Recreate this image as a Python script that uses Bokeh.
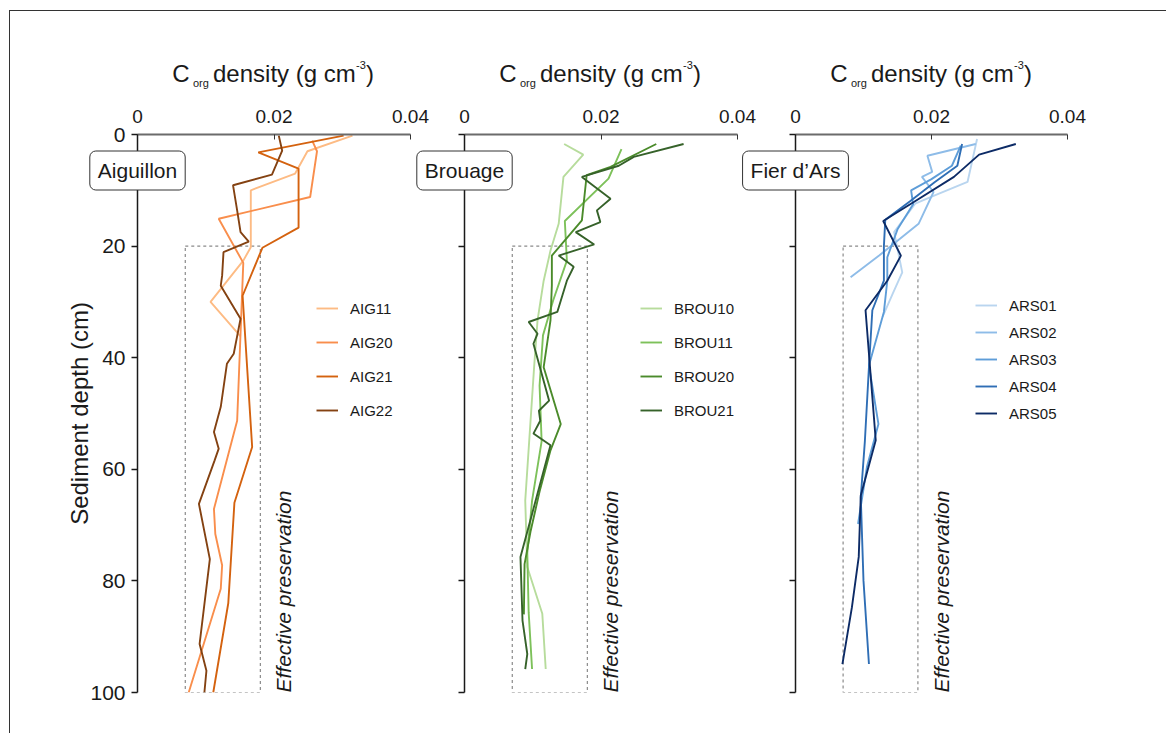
import math
from bokeh.plotting import figure
from bokeh.models import (Range1d, FixedTicker, CustomJSTickFormatter, Label, Legend, LegendItem,
                          Row, Column)
from bokeh.embed import file_html
from bokeh.resources import INLINE
from bokeh.core.properties import value

FONT = "Liberation Sans"

# ---------------- data ----------------
X_TICKS = [0, 0.02, 0.04]
Y_TICKS = [0, 20, 40, 60, 80, 100]
X_MAX = 0.04
DEPTH_MAX = 100
PRESERV_LEFT, PRESERV_RIGHT = 0.007, 0.018
PRESERV_TOP, PRESERV_BOTTOM = 20, 100

SITES = ["Aiguillon", "Brouage", "Fier d\u2019Ars"]

AIG11_D = [0.2, 3.0, 7.0, 10.0, 20.2, 22.6, 30.0, 36.2]
AIG11_V = [0.0315, 0.0249, 0.0231, 0.0166, 0.0166, 0.0155, 0.0107, 0.0151]
AIG20_D = [1.1, 3.0, 11.2, 15.1, 23.0, 51.3, 67.1, 71.6, 77.2, 81.4, 100]
AIG20_V = [0.0256, 0.0263, 0.0253, 0.0119, 0.0155, 0.0146, 0.0112, 0.0114, 0.0124, 0.0122, 0.0075]
AIG21_D = [0.2, 3.2, 6.1, 16.7, 20.3, 28.9, 56.0, 66.0, 84.0, 100]
AIG21_V = [0.0302, 0.0177, 0.0236, 0.0236, 0.0183, 0.0154, 0.0168, 0.0142, 0.0133, 0.0111]
AIG22_D = [0.2, 2.9, 7.2, 9.1, 13.6, 17.5, 19.2, 21.1, 25.3, 27.1, 33.0, 39.3, 41.1, 48.8,
           53.3, 56.3, 58.4, 66.2, 76.1, 91.3, 96.1, 100]
AIG22_V = [0.0207, 0.0212, 0.0197, 0.0140, 0.0146, 0.0151, 0.0163, 0.0126, 0.0124, 0.0122,
           0.0151, 0.0141, 0.0131, 0.0122, 0.0112, 0.0119, 0.0113, 0.0090, 0.0106, 0.0091,
           0.0101, 0.0098]

BROU10_D = [1.7, 3.6, 7.6, 16.0, 20.8, 26.2, 33.3, 41.7, 65.6, 77.5, 85.9, 95.8]
BROU10_V = [0.0146, 0.0174, 0.0145, 0.0138, 0.0126, 0.0116, 0.0107, 0.0102, 0.0089, 0.0092, 0.0114, 0.0119]
BROU11_D = [2.6, 7.9, 15.5, 22.6, 29.7, 36.0, 45.0, 55.0, 65.6, 75.0, 85.6, 95.8]
BROU11_V = [0.0230, 0.0211, 0.0147, 0.0150, 0.0130, 0.0115, 0.0110, 0.0113, 0.0099, 0.0092, 0.0094, 0.0099]
BROU20_D = [1.7, 5.8, 7.3, 15.4, 21.7, 27.0, 33.3, 41.7, 51.9, 56.6, 64.0, 71.0, 77.0, 86.0]
BROU20_V = [0.0281, 0.0214, 0.0179, 0.0172, 0.0128, 0.0128, 0.0126, 0.0116, 0.0141, 0.0126,
            0.0110, 0.0097, 0.0088, 0.0087]
BROU21_D = [1.7, 4.0, 5.6, 7.6, 11.5, 13.6, 15.7, 17.5, 19.7, 21.7, 23.7, 26.2, 31.8, 33.6,
            35.7, 37.5, 47.7, 49.5, 51.3, 53.6, 55.7, 68.0, 75.7, 87.1, 93.1, 95.8]
BROU21_V = [0.0321, 0.0248, 0.0226, 0.0172, 0.0214, 0.0194, 0.0199, 0.0163, 0.0190, 0.0138,
            0.0160, 0.0150, 0.0136, 0.0094, 0.0107, 0.0101, 0.0124, 0.0109, 0.0111, 0.0101,
            0.0126, 0.0099, 0.0082, 0.0085, 0.0092, 0.0089]

ARS01_D = [0.8, 8.5, 11.0, 12.4, 17.5, 24.7, 28.5, 32.7]
ARS01_V = [0.0267, 0.0253, 0.0203, 0.0176, 0.0145, 0.0157, 0.0143, 0.0128]
ARS02_D = [1.7, 3.8, 6.7, 7.6, 10.3, 16.0, 21.7, 25.6]
ARS02_V = [0.0265, 0.0194, 0.0201, 0.0186, 0.0203, 0.0181, 0.0123, 0.0081]
ARS03_D = [2.0, 5.6, 8.0, 10.0, 12.5, 17.0, 22.0, 26.2, 31.8, 41.4, 51.9, 59.6, 69.8]
ARS03_V = [0.0243, 0.0230, 0.0200, 0.0170, 0.0173, 0.0150, 0.0135, 0.0135, 0.0130, 0.0108,
           0.0122, 0.0105, 0.0092]
ARS04_D = [1.7, 5.6, 8.5, 12.0, 15.3, 20.0, 26.2, 31.5, 41.7, 55.0, 65.0, 80.0, 94.9]
ARS04_V = [0.0245, 0.0238, 0.0205, 0.0168, 0.0132, 0.0130, 0.0130, 0.0113, 0.0108, 0.0102,
           0.0096, 0.0100, 0.0108]
ARS05_D = [1.7, 3.6, 7.6, 12.1, 15.5, 21.7, 26.2, 31.5, 54.8, 64.7, 75.7, 84.7, 94.9]
ARS05_V = [0.0324, 0.0270, 0.0233, 0.0174, 0.0129, 0.0155, 0.0135, 0.0103, 0.0118, 0.0096,
           0.0093, 0.0083, 0.0069]

PANELS = [
    [("AIG11", AIG11_D, AIG11_V), ("AIG20", AIG20_D, AIG20_V),
     ("AIG21", AIG21_D, AIG21_V), ("AIG22", AIG22_D, AIG22_V)],
    [("BROU10", BROU10_D, BROU10_V), ("BROU11", BROU11_D, BROU11_V),
     ("BROU20", BROU20_D, BROU20_V), ("BROU21", BROU21_D, BROU21_V)],
    [("ARS01", ARS01_D, ARS01_V), ("ARS02", ARS02_D, ARS02_V), ("ARS03", ARS03_D, ARS03_V),
     ("ARS04", ARS04_D, ARS04_V), ("ARS05", ARS05_D, ARS05_V)],
]
COLORS = [
    ["#FDBB84", "#F98E4C", "#D4620F", "#844212"],
    ["#B7DC9C", "#7DC15A", "#4B8B2B", "#36622A"],
    ["#B9D5EF", "#8EBCE8", "#5E9DD8", "#2F6EB5", "#0D2B66"],
]

# ---------------- layout (pixels) ----------------
FIG_H = 722
FRAME_TOP = 123
FRAME_H = 558
LEFT_BORDERS = [127, 60, 65]
FRAME_WS = [273, 273, 272]
RIGHT_BORDERS = [27, 27, 99]
OVERLAPS = [0, -33, -34]
LEGEND_POS = [(179, 272, 14), (176, 272, 14), (180, 269, 7)]
BOX_CENTER_BELOW_TOP = 36
# (text, offset right of y-axis, text centre above frame top, font size)
TITLE_PIECES = [("C", 34.7, 61.0, "24px"), ("org", 55.5, 52.0, "11px"),
                ("density (g cm", 75.5, 61.0, "24px"), ("-3", 218.5, 69.7, "11px"),
                (")", 228.5, 61.0, "24px")]

figs = []
frame_lefts = []
cursor = 0
for i in range(3):
    fw = FRAME_WS[i]
    w = LEFT_BORDERS[i] + fw + RIGHT_BORDERS[i]
    cursor += OVERLAPS[i]
    frame_lefts.append(cursor + LEFT_BORDERS[i])
    cursor += w
    p = figure(width=w, height=FIG_H,
               x_range=Range1d(0, X_MAX), y_range=Range1d(DEPTH_MAX, 0),
               x_axis_location="above", y_axis_location="left",
               output_backend="svg", toolbar_location=None,
               min_border_left=LEFT_BORDERS[i], min_border_right=RIGHT_BORDERS[i],
               min_border_top=FRAME_TOP, min_border_bottom=FIG_H - FRAME_TOP - FRAME_H,
               background_fill_alpha=0, border_fill_alpha=0, outline_line_color=None,
               margin=(0, 0, 0, OVERLAPS[i]))
    p.xgrid.visible = False
    p.ygrid.visible = False

    xa = p.xaxis[0]
    xa.ticker = FixedTicker(ticks=X_TICKS)
    xa.formatter = CustomJSTickFormatter(code="return tick === 0 ? '0' : tick.toFixed(2);")
    xa.major_tick_in = 5
    xa.major_tick_out = 0
    xa.minor_tick_line_color = None
    xa.axis_line_color = "#6b6b6b"
    xa.axis_line_width = 2
    xa.major_tick_line_color = "#333333"
    xa.major_label_text_font = FONT
    xa.major_label_text_font_size = "19px"
    xa.major_label_text_color = "#1a1a1a"
    xa.major_label_standoff = 12

    ya = p.yaxis[0]
    ya.ticker = FixedTicker(ticks=Y_TICKS)
    ya.major_tick_in = 0
    ya.major_tick_out = 6
    ya.minor_tick_line_color = None
    ya.axis_line_color = "#1a1a1a"
    ya.axis_line_width = 1.5
    ya.major_tick_line_color = "#1a1a1a"
    ya.major_tick_line_width = 1.5
    ya.major_label_text_font = FONT
    ya.major_label_text_font_size = "21px"
    ya.major_label_text_color = "#1a1a1a"
    ya.major_label_standoff = 6
    if i == 0:
        ya.axis_label = "Sediment depth (cm)"
        ya.axis_label_text_font = FONT
        ya.axis_label_text_font_size = "24px"
        ya.axis_label_text_font_style = "normal"
        ya.axis_label_text_color = "#1a1a1a"
        ya.axis_label_standoff = -6
    else:
        ya.formatter = CustomJSTickFormatter(code="return '';")

    # preservation box
    p.quad(left=[PRESERV_LEFT], right=[PRESERV_RIGHT], top=[PRESERV_TOP], bottom=[PRESERV_BOTTOM],
           fill_color=None, line_color="#8a8a8a", line_dash="3 3", line_width=1.2)
    p.text(x=[146 * X_MAX / fw], y=[DEPTH_MAX], text=["Effective preservation"], angle=math.pi / 2,
           text_align="left", text_baseline="middle", text_font=value(FONT),
           text_font_size="21px", text_font_style="italic", text_color="#1a1a1a")

    items = []
    for (name, d, v), c in zip(PANELS[i], COLORS[i]):
        r = p.line(x=v, y=d, line_color=c, line_width=1.9)
        items.append(LegendItem(label=name, renderers=[r]))
    lx, ly, sp = LEGEND_POS[i]
    leg = Legend(items=items, location=(lx, ly), orientation="vertical",
                 border_line_color=None, background_fill_alpha=0, padding=0, margin=0,
                 spacing=sp, glyph_width=22, glyph_height=20, label_height=20,
                 label_standoff=12, label_text_font=FONT, label_text_font_size="15px",
                 label_text_color="#1a1a1a", label_text_baseline="middle")
    p.add_layout(leg)
    figs.append(p)

panels_row = Row(children=figs)

# ---- overlay figure in pixel units for texts that sit outside the panel frames ----
OW = cursor
ov = figure(width=OW, height=FIG_H, x_range=Range1d(0, OW), y_range=Range1d(FIG_H, 0),
            x_axis_location=None, y_axis_location=None, output_backend="svg",
            toolbar_location=None, min_border_left=0, min_border_right=0,
            min_border_top=0, min_border_bottom=0,
            background_fill_alpha=0, border_fill_alpha=0, outline_line_color=None,
            margin=(-FIG_H, 0, 0, 0))
ov.xgrid.visible = False
ov.ygrid.visible = False
for i in range(3):
    fl = frame_lefts[i]
    ov.add_layout(Label(x=fl, y=FRAME_TOP + BOX_CENTER_BELOW_TOP,
                        text=SITES[i], text_align="center", text_baseline="middle",
                        text_font=FONT, text_font_size="21px", text_color="#1a1a1a",
                        background_fill_color="white", border_line_color="#333333",
                        border_line_width=1, border_radius=6, padding=8))
    for txt, ox, oy, fs in TITLE_PIECES:
        ov.add_layout(Label(x=fl + ox, y=FRAME_TOP - oy, text=txt, text_align="left",
                            text_baseline="middle", text_font=FONT, text_font_size=fs,
                            text_color="#1a1a1a"))

layout = Column(children=[panels_row, ov], margin=(10, 0, 0, 9),
                styles={"border-left": "1px solid #333", "border-top": "1px solid #333"})

open("out.html", "w").write(file_html(layout, INLINE))
